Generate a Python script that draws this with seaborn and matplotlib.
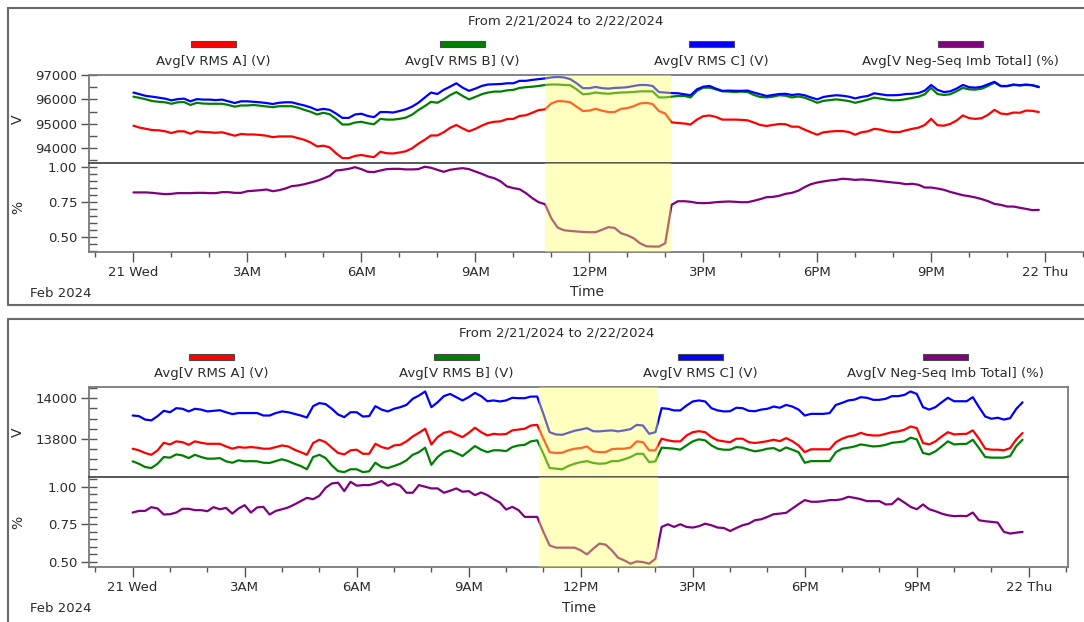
import numpy as np
import pandas as pd
import matplotlib
matplotlib.use("Agg")
import matplotlib.pyplot as plt
import seaborn as sns
from matplotlib.ticker import FixedLocator, MultipleLocator, FuncFormatter
from matplotlib.lines import Line2D
from matplotlib.patches import Rectangle

# ---------------------------------------------------------------- data
# 10-minute averages, hours after midnight on 2/21/2024
hours = np.arange(144) / 6.0

title_text = "From 2/21/2024 to 2/22/2024"
series_labels = ["Avg[V RMS A] (V)", "Avg[V RMS B] (V)", "Avg[V RMS C] (V)",
                 "Avg[V Neg-Seq Imb Total] (%)"]
series_colors = ["#FF0000", "#008000", "#0000FF", "#800080"]
x_tick_hours = [0, 3, 6, 9, 12, 15, 18, 21, 24]
x_tick_labels = ["21 Wed", "3AM", "6AM", "9AM", "12PM", "3PM", "6PM", "9PM", "22 Thu"]
month_label = "Feb 2024"
x_axis_label = "Time"

# meter 1 (transmission level)
m1_rms_a = [94920, 94840, 94790, 94740, 94730, 94690, 94620, 94690, 94690, 94590,
            94690, 94660, 94650, 94630, 94650, 94580, 94510, 94580, 94560, 94560,
            94540, 94510, 94450, 94480, 94480, 94480, 94410, 94340, 94230, 94070,
            94100, 94030, 93790, 93590, 93590, 93680, 93720, 93670, 93630, 93850,
            93790, 93780, 93820, 93870, 93990, 94180, 94340, 94520, 94520, 94650,
            94830, 94950, 94810, 94690, 94790, 94920, 95030, 95080, 95100, 95190,
            95200, 95320, 95350, 95450, 95560, 95590, 95830, 95930, 95920, 95880,
            95700, 95520, 95540, 95610, 95540, 95480, 95480, 95610, 95640, 95720,
            95830, 95860, 95810, 95520, 95420, 95060, 95030, 95010, 94970, 95170,
            95310, 95340, 95280, 95170, 95170, 95170, 95160, 95140, 95050, 94950,
            94910, 94950, 94990, 94980, 94880, 94880, 94760, 94650, 94550, 94650,
            94680, 94700, 94700, 94660, 94550, 94650, 94690, 94790, 94760, 94690,
            94660, 94660, 94730, 94790, 94840, 94950, 95200, 94940, 94920, 94990,
            95130, 95340, 95230, 95200, 95230, 95370, 95570, 95420, 95390, 95460,
            95450, 95540, 95530, 95480]
m1_rms_b = [96110, 96060, 96000, 95930, 95900, 95880, 95820, 95880, 95890, 95770,
            95860, 95830, 95820, 95820, 95820, 95770, 95700, 95750, 95750, 95770,
            95740, 95710, 95680, 95720, 95720, 95720, 95660, 95570, 95490, 95380,
            95450, 95390, 95200, 94970, 94970, 95050, 95080, 95020, 94980, 95200,
            95170, 95170, 95200, 95250, 95370, 95560, 95720, 95900, 95860, 96000,
            96170, 96300, 96140, 96000, 96100, 96210, 96280, 96320, 96320, 96370,
            96390, 96470, 96500, 96520, 96550, 96590, 96610, 96610, 96590, 96580,
            96410, 96210, 96230, 96280, 96250, 96230, 96260, 96280, 96290, 96300,
            96330, 96330, 96330, 96080, 96080, 96110, 96140, 96140, 96080, 96350,
            96480, 96480, 96410, 96330, 96320, 96300, 96320, 96300, 96180, 96100,
            96080, 96110, 96170, 96150, 96080, 96120, 96070, 95970, 95860, 95940,
            95970, 96000, 95970, 95930, 95860, 95920, 95990, 96070, 96030, 95990,
            95960, 95970, 96010, 96060, 96110, 96210, 96470, 96220, 96180, 96210,
            96330, 96470, 96410, 96400, 96440, 96550, 96690, 96540, 96540, 96590,
            96570, 96590, 96580, 96520]
m1_rms_c = [96280, 96210, 96140, 96110, 96070, 96030, 95960, 96010, 96030, 95920,
            96010, 95990, 95990, 95970, 95990, 95920, 95850, 95920, 95920, 95900,
            95880, 95850, 95810, 95860, 95880, 95880, 95810, 95750, 95670, 95560,
            95610, 95570, 95420, 95240, 95240, 95380, 95410, 95320, 95270, 95480,
            95480, 95460, 95520, 95590, 95700, 95860, 96070, 96280, 96220, 96390,
            96520, 96660, 96480, 96350, 96440, 96550, 96610, 96620, 96630, 96660,
            96660, 96760, 96760, 96800, 96830, 96860, 96900, 96920, 96900, 96830,
            96660, 96460, 96460, 96510, 96460, 96440, 96470, 96480, 96500, 96550,
            96590, 96590, 96550, 96300, 96280, 96260, 96250, 96210, 96170, 96410,
            96520, 96550, 96440, 96350, 96360, 96350, 96350, 96360, 96280, 96210,
            96140, 96180, 96220, 96230, 96180, 96210, 96170, 96080, 96000, 96100,
            96140, 96170, 96150, 96110, 96040, 96100, 96140, 96250, 96210, 96170,
            96170, 96180, 96220, 96230, 96260, 96360, 96590, 96390, 96300, 96330,
            96440, 96590, 96500, 96480, 96520, 96620, 96720, 96550, 96550, 96610,
            96580, 96610, 96580, 96500]
m1_neg_seq = [0.821, 0.821, 0.821, 0.818, 0.813, 0.809, 0.811, 0.816, 0.816, 0.816,
              0.818, 0.818, 0.816, 0.816, 0.823, 0.823, 0.818, 0.818, 0.830, 0.833,
              0.837, 0.842, 0.830, 0.837, 0.849, 0.866, 0.871, 0.880, 0.892, 0.904,
              0.921, 0.940, 0.978, 0.983, 0.990, 1.002, 0.988, 0.969, 0.967, 0.978,
              0.988, 0.990, 0.990, 0.986, 0.986, 0.988, 1.005, 0.998, 0.983, 0.969,
              0.983, 0.990, 0.995, 0.988, 0.971, 0.955, 0.935, 0.923, 0.900, 0.864,
              0.852, 0.844, 0.816, 0.780, 0.751, 0.737, 0.636, 0.569, 0.550, 0.545,
              0.541, 0.538, 0.536, 0.536, 0.553, 0.572, 0.567, 0.529, 0.514, 0.493,
              0.457, 0.435, 0.433, 0.433, 0.457, 0.732, 0.758, 0.758, 0.754, 0.746,
              0.744, 0.746, 0.751, 0.754, 0.756, 0.754, 0.751, 0.751, 0.761, 0.773,
              0.787, 0.789, 0.797, 0.811, 0.818, 0.833, 0.859, 0.880, 0.892, 0.900,
              0.907, 0.911, 0.919, 0.916, 0.911, 0.914, 0.911, 0.907, 0.902, 0.897,
              0.892, 0.888, 0.880, 0.883, 0.876, 0.856, 0.856, 0.849, 0.840, 0.825,
              0.813, 0.801, 0.794, 0.785, 0.773, 0.758, 0.739, 0.732, 0.720, 0.720,
              0.711, 0.703, 0.694, 0.696]

# meter 2 (distribution level)
m2_rms_a = [13752, 13744, 13731, 13722, 13744, 13781, 13773, 13788, 13784, 13771,
            13788, 13781, 13776, 13776, 13776, 13763, 13752, 13760, 13757, 13760,
            13757, 13752, 13752, 13760, 13768, 13763, 13747, 13735, 13722, 13780,
            13796, 13784, 13757, 13731, 13724, 13744, 13747, 13727, 13727, 13776,
            13760, 13752, 13768, 13771, 13788, 13812, 13830, 13850, 13773, 13809,
            13830, 13837, 13822, 13809, 13830, 13855, 13833, 13817, 13825, 13822,
            13824, 13842, 13846, 13850, 13866, 13869, 13801, 13735, 13731, 13732,
            13744, 13752, 13755, 13763, 13739, 13735, 13735, 13750, 13752, 13752,
            13758, 13788, 13784, 13744, 13744, 13801, 13793, 13788, 13788, 13817,
            13833, 13838, 13833, 13809, 13793, 13788, 13784, 13801, 13801, 13784,
            13780, 13784, 13789, 13796, 13789, 13804, 13789, 13768, 13735, 13749,
            13749, 13749, 13749, 13784, 13801, 13812, 13817, 13830, 13820, 13817,
            13817, 13825, 13833, 13837, 13845, 13861, 13853, 13780, 13773, 13788,
            13812, 13833, 13822, 13824, 13825, 13842, 13801, 13752, 13747, 13747,
            13744, 13755, 13798, 13829]
m2_rms_b = [13690, 13678, 13662, 13657, 13678, 13711, 13708, 13724, 13719, 13706,
            13722, 13711, 13703, 13703, 13706, 13690, 13683, 13695, 13690, 13691,
            13690, 13683, 13682, 13691, 13700, 13691, 13678, 13667, 13651, 13711,
            13722, 13706, 13670, 13642, 13637, 13651, 13651, 13637, 13641, 13683,
            13662, 13657, 13667, 13678, 13695, 13722, 13735, 13757, 13673, 13711,
            13735, 13744, 13731, 13716, 13740, 13765, 13747, 13735, 13744, 13744,
            13740, 13760, 13768, 13771, 13788, 13793, 13727, 13657, 13654, 13651,
            13667, 13678, 13686, 13691, 13682, 13678, 13680, 13691, 13691, 13700,
            13711, 13727, 13727, 13686, 13690, 13757, 13755, 13752, 13747, 13768,
            13788, 13798, 13793, 13768, 13752, 13747, 13747, 13760, 13757, 13747,
            13739, 13744, 13752, 13755, 13741, 13758, 13747, 13735, 13683, 13691,
            13691, 13691, 13691, 13735, 13752, 13757, 13763, 13773, 13768, 13763,
            13765, 13771, 13781, 13784, 13788, 13806, 13798, 13731, 13724, 13739,
            13763, 13788, 13773, 13775, 13776, 13796, 13755, 13711, 13708, 13708,
            13708, 13716, 13765, 13796]
m2_rms_c = [13915, 13912, 13895, 13891, 13912, 13938, 13931, 13951, 13948, 13935,
            13948, 13944, 13935, 13938, 13941, 13931, 13922, 13927, 13927, 13927,
            13927, 13915, 13915, 13927, 13935, 13931, 13923, 13915, 13905, 13961,
            13976, 13971, 13948, 13920, 13907, 13931, 13931, 13910, 13912, 13961,
            13944, 13935, 13948, 13956, 13967, 13997, 14013, 14033, 13956, 13980,
            14010, 14021, 14005, 13989, 14005, 14026, 14010, 13985, 13989, 13984,
            13989, 14002, 14000, 14000, 14008, 14008, 13923, 13833, 13822, 13820,
            13830, 13840, 13846, 13853, 13838, 13837, 13840, 13842, 13837, 13842,
            13848, 13869, 13866, 13825, 13833, 13951, 13948, 13940, 13940, 13964,
            13984, 13989, 13984, 13951, 13940, 13935, 13936, 13953, 13951, 13938,
            13936, 13944, 13948, 13959, 13953, 13967, 13959, 13944, 13915, 13923,
            13923, 13923, 13927, 13967, 13977, 13989, 13993, 14005, 14002, 13992,
            13992, 13997, 14010, 14010, 14016, 14033, 14021, 13956, 13944, 13956,
            13980, 14002, 13985, 13985, 13985, 14005, 13956, 13910, 13899, 13904,
            13895, 13902, 13948, 13980]
m2_neg_seq = [0.828, 0.839, 0.839, 0.864, 0.855, 0.815, 0.817, 0.828, 0.853, 0.853,
              0.844, 0.844, 0.837, 0.864, 0.850, 0.859, 0.821, 0.855, 0.877, 0.828,
              0.862, 0.866, 0.815, 0.839, 0.850, 0.862, 0.882, 0.904, 0.926, 0.917,
              0.940, 0.993, 1.022, 1.027, 0.971, 1.033, 1.007, 1.011, 1.011, 1.022,
              1.038, 1.007, 1.022, 1.007, 0.960, 0.960, 1.011, 1.000, 0.989, 0.989,
              0.960, 0.973, 0.989, 0.967, 0.971, 0.944, 0.962, 0.944, 0.917, 0.895,
              0.848, 0.866, 0.844, 0.799, 0.799, 0.799, 0.699, 0.609, 0.594, 0.594,
              0.594, 0.594, 0.576, 0.549, 0.587, 0.621, 0.614, 0.576, 0.527, 0.509,
              0.487, 0.502, 0.498, 0.487, 0.520, 0.732, 0.750, 0.732, 0.750, 0.732,
              0.728, 0.737, 0.754, 0.743, 0.728, 0.725, 0.705, 0.725, 0.743, 0.754,
              0.777, 0.783, 0.799, 0.817, 0.821, 0.826, 0.855, 0.884, 0.911, 0.900,
              0.900, 0.904, 0.911, 0.911, 0.917, 0.933, 0.926, 0.917, 0.904, 0.904,
              0.904, 0.882, 0.884, 0.922, 0.895, 0.866, 0.850, 0.882, 0.850, 0.837,
              0.821, 0.810, 0.804, 0.806, 0.804, 0.828, 0.777, 0.770, 0.766, 0.761,
              0.699, 0.688, 0.694, 0.699]

# highlighted interval (hours) for each meter
m1_window = [10.83, 14.15]
m2_window = [10.87, 14.08]

# ---------------------------------------------------------------- style
sns.set_style("white")
plt.rcParams["font.family"] = ["DejaVu Sans"]
plt.rcParams["font.size"] = 9.5
TEXT = "#2b2b2b"
SPINE = "#7a7a7a"
FRAME = "#6a6a6a"
TICK = "#555555"

W, H = 1084, 622
fig = plt.figure(figsize=(W / 100, H / 100), dpi=100, facecolor="white")


def fx(px):
    return px / W


def fy(py):
    return 1 - py / H


def rect(x0, y0, x1, y1):
    return [x0 / W, 1 - y1 / H, (x1 - x0) / W, (y1 - y0) / H]


def hline(x0, x1, y, color=FRAME, lw=1.5):
    fig.add_artist(Line2D([fx(x0), fx(x1)], [fy(y), fy(y)],
                          transform=fig.transFigure, color=color, lw=lw))


def vline(x, y0, y1, color=FRAME, lw=1.5):
    fig.add_artist(Line2D([fx(x), fx(x)], [fy(y0), fy(y1)],
                          transform=fig.transFigure, color=color, lw=lw))


def style_y(ax, lim, major, minor, fmt):
    ax.set_ylim(*lim)
    ax.yaxis.set_major_locator(FixedLocator(major))
    ax.yaxis.set_minor_locator(MultipleLocator(minor))
    ax.yaxis.set_major_formatter(FuncFormatter(lambda v, _: fmt.format(v)))
    ax.tick_params(axis="y", which="major", left=True, direction="inout", length=11,
                   width=1.0, color=TICK, labelcolor=TEXT, labelsize=9.5, pad=3)
    ax.tick_params(axis="y", which="minor", left=True, direction="in", length=6,
                   width=1.0, color=TICK)
    ax.set_ylabel("")


def draw_panel(lay, rms_a, rms_b, rms_c, imb, v_lim, v_major, v_minor, p_lim, window):
    left, right = lay["left"], lay["right"]
    ax_v = fig.add_axes(rect(left, lay["top"], right, lay["split"]))
    ax_p = fig.add_axes(rect(left, lay["split"], right, lay["bottom"]), sharex=ax_v)

    volts = pd.DataFrame({
        "hour": np.concatenate([hours] * 3),
        "volts": np.concatenate([rms_a, rms_b, rms_c]),
        "series": np.repeat(series_labels[:3], len(hours)),
    })
    sns.lineplot(data=volts, x="hour", y="volts", hue="series",
                 hue_order=series_labels[:3], palette=series_colors[:3],
                 estimator=None, sort=False, legend=False, linewidth=1.6, ax=ax_v)
    imbalance = pd.DataFrame({"hour": hours, "pct": imb})
    sns.lineplot(data=imbalance, x="hour", y="pct", color=series_colors[3],
                 estimator=None, linewidth=1.6, ax=ax_p)

    for ax in (ax_v, ax_p):
        ax.axvspan(window[0], window[1], color="#FFFF60", alpha=0.4, lw=0, zorder=3)
        ax.set_facecolor("white")
        for s in ax.spines.values():
            s.set_color(SPINE)
            s.set_linewidth(1.3)
    ax_v.spines["bottom"].set_visible(False)
    ax_p.spines["top"].set_color("#4a4a4a")

    style_y(ax_v, v_lim, v_major, v_minor, "{:.0f}")
    style_y(ax_p, p_lim, [0.50, 0.75, 1.00], 0.05, "{:.2f}")

    ax_p.set_xlim(-1.17, 25.05)
    ax_p.xaxis.set_major_locator(FixedLocator(x_tick_hours))
    ax_p.xaxis.set_minor_locator(FixedLocator(list(range(-1, 26))))
    ax_p.set_xticklabels(x_tick_labels)
    ax_p.tick_params(axis="x", which="major", bottom=True, direction="out", length=7.5,
                     width=1.0, color=TICK, labelcolor=TEXT, labelsize=9.5, pad=2.5)
    ax_p.tick_params(axis="x", which="minor", bottom=True, direction="out", length=3.6,
                     width=1.0, color=TICK)
    ax_v.tick_params(axis="x", which="both", bottom=False, labelbottom=False)
    ax_p.set_xlabel("")
    ax_v.set_xlabel("")

    # axis titles
    fig.text(fx(18), fy((lay["top"] + lay["split"]) / 2), "V", rotation=90,
             ha="center", va="center", color=TEXT, fontsize=10)
    fig.text(fx(18), fy((lay["split"] + lay["bottom"]) / 2), "%", rotation=90,
             ha="center", va="center", color=TEXT, fontsize=10)
    fig.text(fx((left + right) / 2), fy(lay["time_y"]), x_axis_label,
             ha="center", va="center", color=TEXT, fontsize=10)
    fig.text(fx(30), fy(lay["month_y"]), month_label,
             ha="left", va="center", color=TEXT, fontsize=9.5)

    # title and legend strip
    fig.text(fx(lay["title_x"]), fy(lay["title_y"]), title_text,
             ha="center", va="center", color=TEXT, fontsize=9.5)
    sw0, sw1 = lay["swatch_y"]
    for cx, label, col in zip(lay["legend_x"], series_labels, series_colors):
        fig.add_artist(Rectangle((fx(cx - 22.5), fy(sw1)), 45 / W, (sw1 - sw0) / H,
                                 transform=fig.transFigure, facecolor=col,
                                 edgecolor="#4a4a4a", lw=0.8))
        fig.text(fx(cx), fy(lay["label_y"]), label, ha="center", va="center",
                 color=TEXT, fontsize=9.5)

    # panel frame
    hline(8, W + 20, lay["frame_top"])
    vline(8, lay["frame_top"], lay["frame_bottom"])
    hline(8, W + 20, lay["frame_bottom"])


layout_1 = dict(left=89, right=1085, top=75, split=163, bottom=252,
                time_y=292, month_y=293, title_x=566, title_y=21,
                swatch_y=(41, 47), label_y=62, legend_x=[213, 462, 711, 960],
                frame_top=8, frame_bottom=305)
layout_2 = dict(left=89, right=1068, top=387, split=477, bottom=567,
                time_y=608, month_y=609, title_x=557, title_y=333,
                swatch_y=(354, 360), label_y=374, legend_x=[211, 456, 700, 945],
                frame_top=319, frame_bottom=660)

draw_panel(layout_1, m1_rms_a, m1_rms_b, m1_rms_c, m1_neg_seq,
           (93390, 97000), [94000, 95000, 96000, 97000], 500, (0.394, 1.032), m1_window)
draw_panel(layout_2, m2_rms_a, m2_rms_b, m2_rms_c, m2_neg_seq,
           (13613, 14055), [13800, 14000], 50, (0.465, 1.065), m2_window)

fig.savefig("out.png", dpi=100, facecolor="white")
